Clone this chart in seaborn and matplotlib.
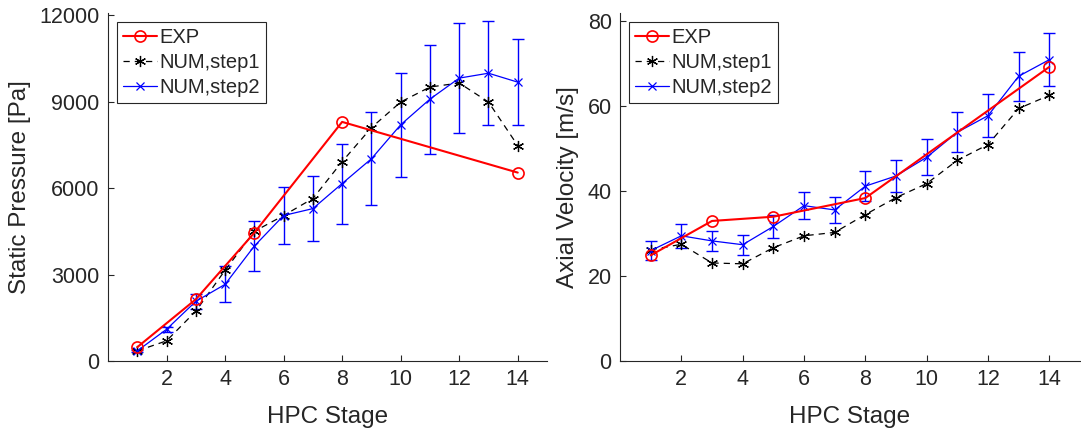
import numpy as np
import pandas as pd
import matplotlib
matplotlib.use("Agg")
import matplotlib.pyplot as plt
import seaborn as sns

# ---------------- data ----------------
exp_stages = [1, 3, 5, 8, 14]
num_stages = list(range(1, 15))

p_exp = [480, 2140, 4450, 8300, 6540]
p_step1 = [350, 700, 1730, 3150, 4500, 5050, 5640, 6920, 8100, 8990, 9510, 9650, 8990, 7480]
p_step2 = [350, 1100, 2070, 2660, 3990, 5050, 5290, 6160, 7020, 8200, 9090, 9820, 9990, 9680]
p_err2 = [40, 90, 260, 625, 880, 1000, 1120, 1390, 1610, 1800, 1890, 1920, 1800, 1500]

v_exp = [24.9, 33.0, 34.0, 38.4, 69.3]
v_step1 = [26.2, 27.5, 23.1, 22.9, 26.7, 29.5, 30.3, 34.5, 38.5, 41.8, 47.3, 51.0, 59.5, 62.6]
v_step2 = [26.0, 29.5, 28.3, 27.4, 31.7, 36.6, 35.6, 41.2, 43.6, 48.0, 53.9, 57.8, 67.1, 71.0]
v_err2 = [2.2, 2.8, 2.4, 2.4, 2.8, 3.2, 3.0, 3.5, 3.8, 4.2, 4.7, 5.1, 5.8, 6.2]

x_ticks = [2, 4, 6, 8, 10, 12, 14]
p_ticks = [0, 3000, 6000, 9000, 12000]
v_ticks = [0, 20, 40, 60, 80]

labels = ["EXP", "NUM,step1", "NUM,step2"]

# ---------------- style ----------------
sns.set_theme(style="white")
plt.rcParams["font.family"] = ["Liberation Sans", "DejaVu Sans"]
axcol = "#262626"
plt.rcParams.update({
    "axes.edgecolor": axcol,
    "axes.linewidth": 0.8,
    "xtick.color": axcol,
    "ytick.color": axcol,
    "xtick.direction": "in",
    "ytick.direction": "in",
    "xtick.major.size": 4,
    "ytick.major.size": 4,
    "xtick.major.width": 0.8,
    "ytick.major.width": 0.8,
    "xtick.bottom": True,
    "ytick.left": True,
})

W, H = 1081, 430
fig = plt.figure(figsize=(W / 100, H / 100), dpi=100)
top_px, bot_px = 13, 361
ax1 = fig.add_axes([108 / W, (H - bot_px) / H, 439 / W, (bot_px - top_px) / H])
ax2 = fig.add_axes([620 / W, (H - bot_px) / H, 460 / W, (bot_px - top_px) / H])

asterisk = (6, 2, 0)


def draw(ax, exp, s1, s2, err, ylim, yticks, ylabel):
    ax.errorbar(num_stages, s2, yerr=err, fmt="none", ecolor="#0000ff",
                elinewidth=1.0, capsize=4, capthick=1.0, zorder=1)
    sns.lineplot(x=exp_stages, y=exp, ax=ax, color="#ff0000", linewidth=1.5,
                 marker="o", markersize=8, markerfacecolor="none",
                 markeredgecolor="#ff0000", markeredgewidth=1.2,
                 label=labels[0], zorder=3)
    sns.lineplot(x=num_stages, y=s1, ax=ax, color="black", linewidth=0.9,
                 linestyle=(0, (5, 4)), marker=asterisk, markersize=8,
                 markeredgecolor="black", markeredgewidth=0.9,
                 label=labels[1], zorder=2)
    sns.lineplot(x=num_stages, y=s2, ax=ax, color="#0000ff", linewidth=0.9,
                 marker="x", markersize=6, markeredgecolor="#0000ff",
                 markeredgewidth=0.9, label=labels[2], zorder=2)
    ax.set_xlim(0, 15)
    ax.set_ylim(*ylim)
    ax.set_xticks(x_ticks)
    ax.set_yticks(yticks)
    ax.tick_params(labelsize=15.5, colors=axcol, pad=6)
    ax.set_xlabel("HPC Stage", fontsize=17.5, color=axcol, labelpad=11)
    ax.set_ylabel(ylabel, fontsize=17.5, color=axcol, labelpad=6)
    for s in ("top", "right"):
        ax.spines[s].set_visible(False)
    leg = ax.legend(loc="upper left", bbox_to_anchor=(0.02, 0.975), fontsize=14.5,
                    frameon=True, fancybox=False, framealpha=1,
                    edgecolor=axcol, borderpad=0.3, labelspacing=0.3,
                    handlelength=1.7, handletextpad=0.1, borderaxespad=0.0)
    leg.get_frame().set_linewidth(0.8)


draw(ax1, p_exp, p_step1, p_step2, p_err2, (0, 12080), p_ticks, "Static Pressure [Pa]")
draw(ax2, v_exp, v_step1, v_step2, v_err2, (0, 82), v_ticks, "Axial Velocity [m/s]")

fig.savefig("out.png", dpi=100)
